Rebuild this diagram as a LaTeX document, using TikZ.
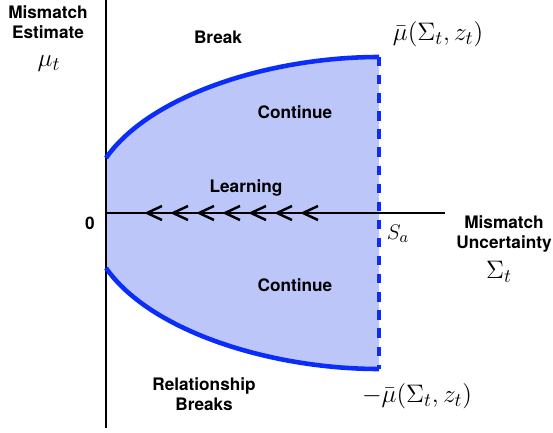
\documentclass[tikz,border=0pt]{standalone}
\usepackage{fontspec}
\setsansfont{TeX Gyre Heros}
\usepackage{amsmath}
\usetikzlibrary{positioning}

\definecolor{regionfill}{RGB}{189,198,249}
\definecolor{boundblue}{RGB}{10,45,250}

\begin{document}
\begin{tikzpicture}[
  x=0.02cm, y=-0.02cm,
  lbl/.style={font=\sffamily\bfseries\fontsize{9.8}{11.4}\selectfont, align=center, inner sep=0pt},
  mlbl/.style={font=\fontsize{15}{17}\selectfont, inner sep=0pt},
  axis/.style={line width=1.1pt},
  bound/.style={boundblue, line width=2.6pt},
  chev/.style={line width=1.4pt, line join=miter}
]
  \useasboundingbox (0,0) rectangle (553,432);

  % continuation region
  \fill[regionfill] (106,158) .. controls (150,95) and (270,57) .. (379,57)
    -- (379,369) .. controls (270,369) and (150,331) .. (106,268) -- cycle;

  % axes
  \draw[axis] (106,0) -- (106,428);
  \draw[axis] (106,213) -- (445,213);

  % boundaries
  \draw[bound] (106,158) .. controls (150,95) and (270,57) .. (379,57);
  \draw[bound] (106,268) .. controls (150,331) and (270,369) .. (379,369);
  \draw[bound, dash pattern=on 5.3pt off 5pt] (379,57) -- (379,369);

  % learning drift
  \foreach \x in {147,173,199,225,251,277,303}
    \draw[chev] (\x+15,206) -- (\x,213) -- (\x+15,220);

  % labels
  \node[lbl] (yname) at (48,22) {Mismatch\\Estimate};
  \node[mlbl] (yvar) at (49,64) {$\mu_t$};
  \node[lbl] (xname) at (504,234) {Mismatch\\Uncertainty};
  \node[mlbl] (xvar) at (499,272) {$\Sigma_t$};
  \node[lbl] (zero) at (90,223) {0};
  \node[mlbl, font=\fontsize{13}{15}\selectfont] (sa) at (398,234) {$S_a$};
  \node[mlbl] (upper) at (438,34) {$\bar{\mu}(\Sigma_t, z_t)$};
  \node[mlbl] (lower) at (417,396) {$-\bar{\mu}(\Sigma_t, z_t)$};

  \node[lbl] (brk) at (218,37) {Break};
  \node[lbl] (contup) at (295,112) {Continue};
  \node[lbl] (learn) at (246,188) {Learning};
  \node[lbl] (contlo) at (295,285) {Continue};
  \node[lbl] (relbrk) at (204,394) {Relationship\\Breaks};
\end{tikzpicture}
\end{document}
